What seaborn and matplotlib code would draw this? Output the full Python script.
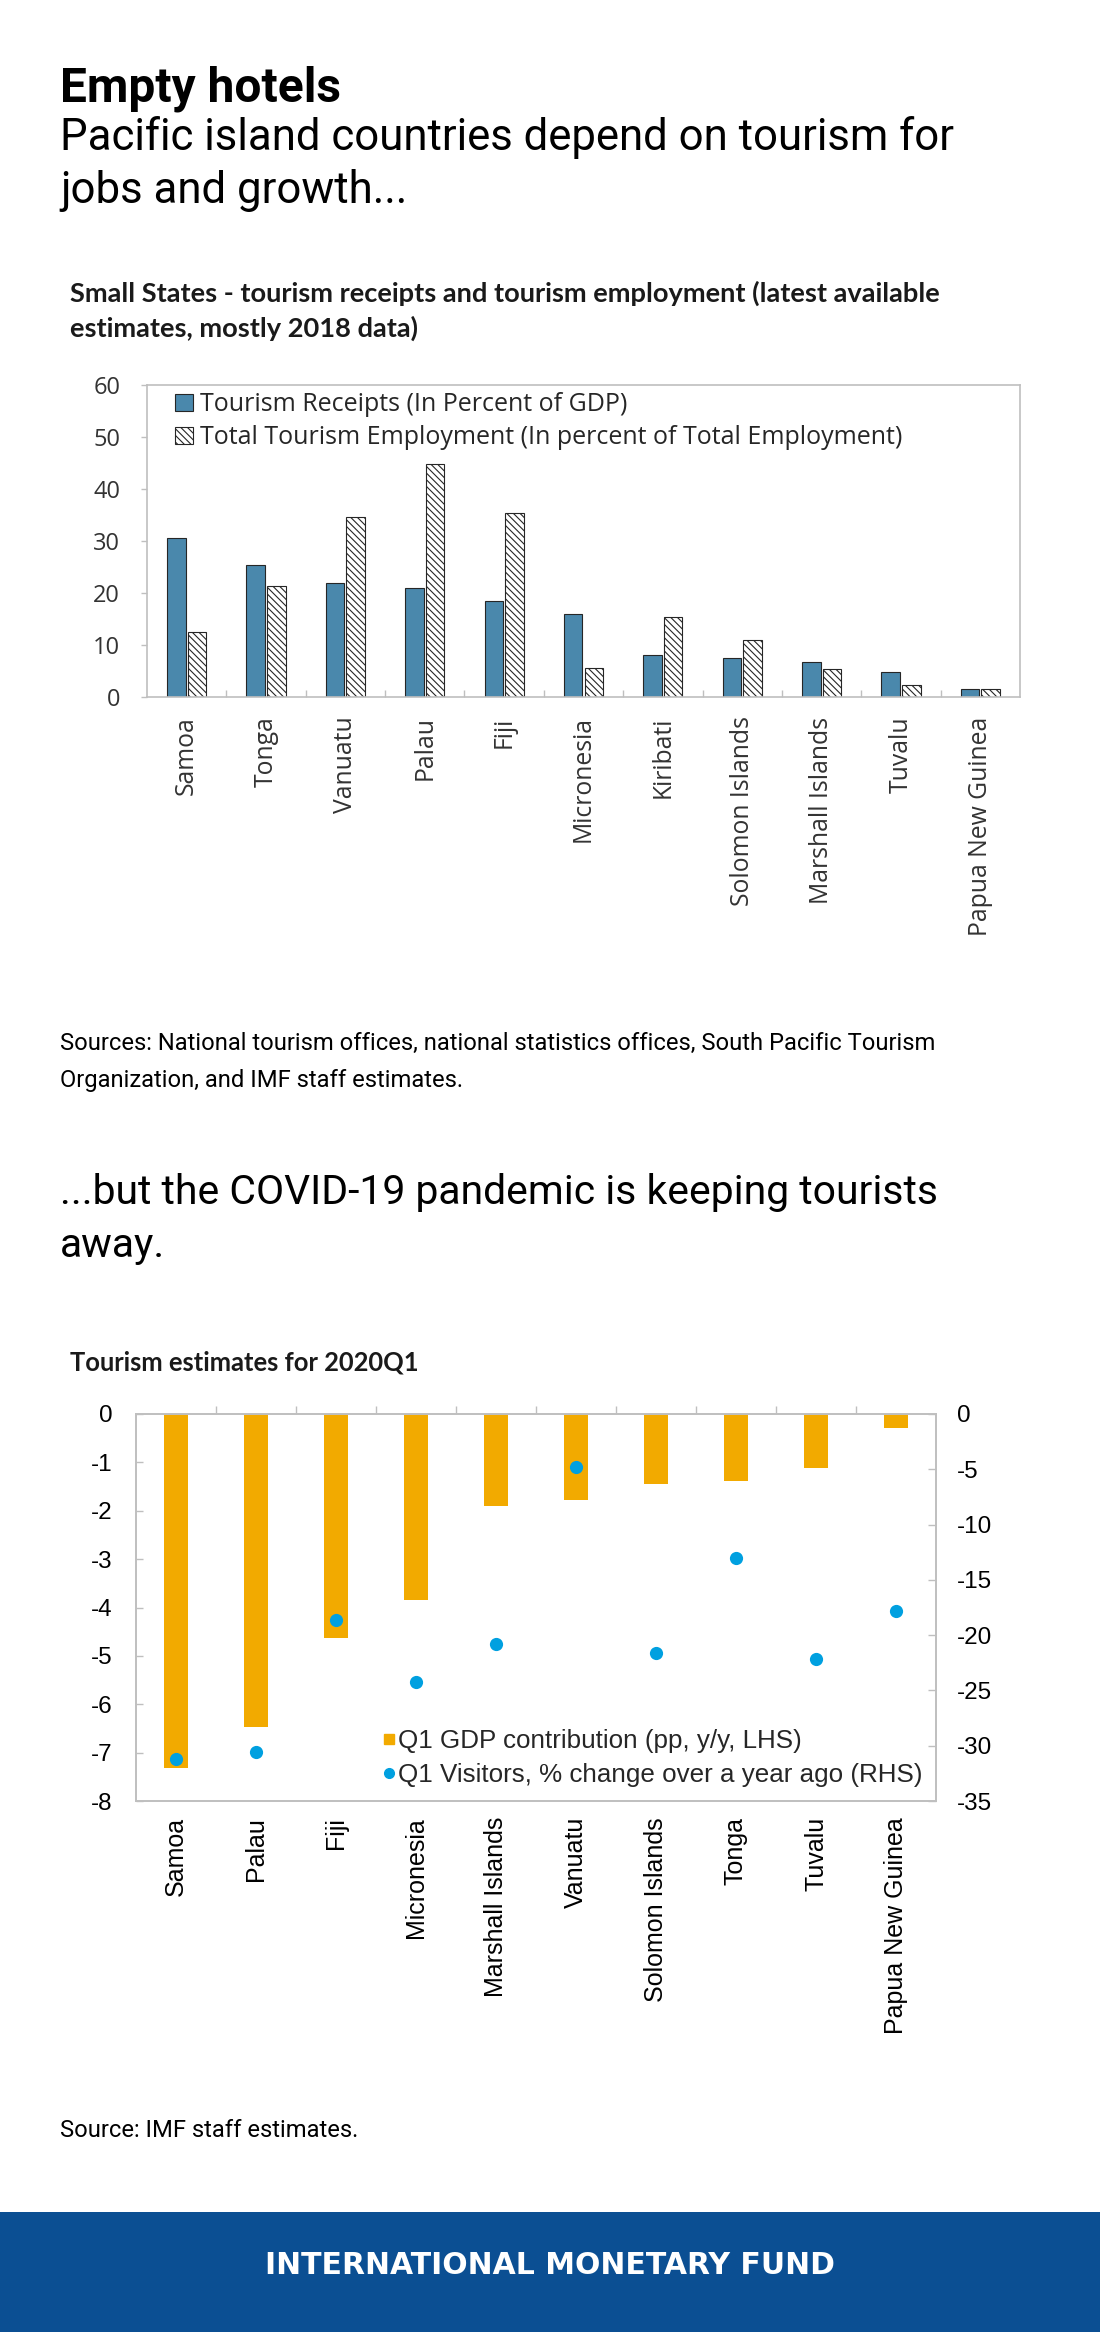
import numpy as np
import pandas as pd
import matplotlib
matplotlib.use('Agg')
import matplotlib.pyplot as plt
import seaborn as sns
from matplotlib.patches import Rectangle
from matplotlib.lines import Line2D

# Chart 1: tourism receipts / employment (latest, mostly 2018)
countries1 = ['Samoa', 'Tonga', 'Vanuatu', 'Palau', 'Fiji', 'Micronesia', 'Kiribati',
              'Solomon Islands', 'Marshall Islands', 'Tuvalu', 'Papua New Guinea']
receipts = [30.5, 25.4, 22.0, 21.0, 18.5, 15.9, 8.0, 7.5, 6.7, 4.9, 1.5]
employment = [12.5, 21.3, 34.7, 44.9, 35.4, 5.6, 15.4, 11.0, 5.4, 2.4, 1.5]
series1 = ['Tourism Receipts (In Percent of GDP)',
           'Total Tourism Employment (In percent of Total Employment)']

# Chart 2: tourism estimates for 2020Q1
countries2 = ['Samoa', 'Palau', 'Fiji', 'Micronesia', 'Marshall Islands', 'Vanuatu',
              'Solomon Islands', 'Tonga', 'Tuvalu', 'Papua New Guinea']
gdp_contrib = [-7.32, -6.46, -4.63, -3.84, -1.90, -1.77, -1.44, -1.39, -1.12, -0.28]
visitors = [-31.2, -30.6, -18.6, -24.2, -20.8, -4.8, -21.6, -13.0, -22.2, -17.8]
series2 = ['Q1 GDP contribution (pp, y/y, LHS)', 'Q1 Visitors, % change over a year ago (RHS)']

BLUE = '#4A88AC'
GOLD = '#F2AA00'
DOT = '#00A0E0'
GRID = '#BFBFBF'
IMF_BLUE = '#0B4F93'

sns.set_theme(style='white')
plt.rcParams['hatch.linewidth'] = 0.8
plt.rcParams['axes.unicode_minus'] = False

W, H = 1100, 2332
fig = plt.figure(figsize=(W / 100, H / 100), dpi=100)


def fx(x):
    return x / W


def fy(y):
    return 1 - y / H


def put(x, y, s, **kw):
    fig.text(fx(x), fy(y), s, ha='left', va='baseline', **kw)


# headline texts
put(60, 102, 'Empty hotels', family='Roboto', weight='bold', size=34.5, color='black')
put(60, 150, 'Pacific island countries depend on tourism for', family='Roboto', size=31.5, color='black')
put(60, 203, 'jobs and growth...', family='Roboto', size=31.5, color='black')

put(70, 302, 'Small States - tourism receipts and tourism employment (latest available',
    family='Lato', weight='bold', size=19.6, color='#1a1a1a')
put(70, 337, 'estimates, mostly 2018 data)', family='Lato', weight='bold', size=19.6, color='#1a1a1a')

# ---- chart 1 ----
df1 = pd.DataFrame({
    'country': countries1 * 2,
    'value': receipts + employment,
    'series': [series1[0]] * len(countries1) + [series1[1]] * len(countries1),
})
ax1 = fig.add_axes([fx(147), fy(697), (1020 - 147) / W, (697 - 385) / H])
sns.barplot(data=df1, x='country', y='value', hue='series', order=countries1,
            hue_order=series1, palette=[BLUE, 'white'], saturation=1,
            width=0.52, gap=0.1, edgecolor='#262626', linewidth=0.8,
            legend=False, ax=ax1)
for bar in ax1.containers[1]:
    bar.set_hatch('\\\\\\\\\\')

ax1.set_ylim(0, 60)
ax1.set_yticks(np.arange(0, 61, 10))
ax1.set_xlim(-0.5, len(countries1) - 0.5)
ax1.set_xlabel('')
ax1.set_ylabel('')
for sp in ax1.spines.values():
    sp.set_visible(True)
    sp.set_color(GRID)
    sp.set_linewidth(1.2)
ax1.tick_params(axis='y', which='major', direction='out', length=4.3, width=1, color=GRID,
                pad=15, labelsize=17, labelcolor='#333333', left=True)
ax1.tick_params(axis='x', which='major', length=0, pad=14, labelsize=17.8,
                labelcolor='#333333', labelrotation=90)
ax1.set_xticks(np.arange(0.5, len(countries1) - 1, 1), minor=True)
ax1.tick_params(axis='x', which='minor', direction='in', length=5, width=1, color=GRID, bottom=True)
for lab in ax1.get_xticklabels() + ax1.get_yticklabels():
    lab.set_family('Open Sans')

leg1 = ax1.legend(ax1.containers, series1, loc='upper left',
                  bbox_to_anchor=((175 - 147) / 873, 1 - (392 - 385) / 312),
                  frameon=False, borderpad=0, borderaxespad=0,
                  handlelength=0.7, handleheight=0.7, handletextpad=0.3,
                  labelspacing=0.32, prop={'family': 'Open Sans', 'size': 18})
for t in leg1.get_texts():
    t.set_color('#262626')

put(60, 1050, 'Sources: National tourism offices, national statistics offices, South Pacific Tourism',
    family='Roboto', size=17.1, color='black')
put(60, 1087, 'Organization, and IMF staff estimates.', family='Roboto', size=17.1, color='black')

put(60, 1204, '...but the COVID-19 pandemic is keeping tourists', family='Roboto', size=29.4, color='black')
put(60, 1257, 'away.', family='Roboto', size=29.4, color='black')

put(70, 1371, 'Tourism estimates for 2020Q1', family='Lato', weight='bold', size=18.4, color='#1a1a1a')

# ---- chart 2 ----
ax2 = fig.add_axes([fx(136), fy(1801), (936 - 136) / W, (1801 - 1414) / H])
sns.barplot(x=countries2, y=gdp_contrib, order=countries2, color=GOLD, saturation=1,
            width=0.31, linewidth=0, ax=ax2)
ax2.set_ylim(-8, 0)
ax2.set_yticks(np.arange(-8, 1, 1))
ax2.set_xlim(-0.5, len(countries2) - 0.5)

ax2r = ax2.twinx()
sns.stripplot(x=countries2, y=visitors, order=countries2, jitter=False, color=DOT,
              size=9.5, linewidth=0, ax=ax2r, zorder=5)
ax2r.set_ylim(-35, 0)
ax2r.set_yticks(np.arange(-35, 1, 5))
ax2r.set_xlim(-0.5, len(countries2) - 0.5)

for a in (ax2, ax2r):
    a.set_xlabel('')
    a.set_ylabel('')
    for sp in a.spines.values():
        sp.set_visible(True)
        sp.set_color(GRID)
        sp.set_linewidth(1.2)

ax2.tick_params(axis='y', which='major', direction='in', length=5, width=1, color=GRID,
                pad=17, labelsize=17.5, labelcolor='black', left=True)
ax2r.tick_params(axis='y', which='major', direction='in', length=5.5, width=1, color=GRID,
                 pad=15, labelsize=17.5, labelcolor='black', right=True)
ax2.tick_params(axis='x', which='major', length=0, pad=11.5, labelsize=18,
                labelcolor='black', labelrotation=90)
ax2.set_xticks(np.arange(0.5, len(countries2) - 1, 1), minor=True)
ax2.tick_params(axis='x', which='minor', direction='out', length=6, width=1, color=GRID,
                top=True, bottom=False)
for lab in ax2.get_xticklabels() + ax2.get_yticklabels() + ax2r.get_yticklabels():
    lab.set_family('Liberation Sans')

handles2 = [Line2D([], [], marker='s', linestyle='none', markersize=6.5, color=GOLD),
            Line2D([], [], marker='o', linestyle='none', markersize=7, color=DOT)]
ax2r.legend(handles2, series2, loc='center left',
            bbox_to_anchor=((384 - 136) / 800, (1801 - 1758) / 387),
            frameon=False, borderpad=0, borderaxespad=0,
            handlelength=0.4, handletextpad=0.15, labelspacing=0.38,
            prop={'family': 'Liberation Sans', 'size': 18.7})

put(60, 2137, 'Source: IMF staff estimates.', family='Roboto', size=17.1, color='black')

# footer band
fig.patches.append(Rectangle((0, 0), 1, (H - 2212) / H, transform=fig.transFigure,
                             facecolor=IMF_BLUE, edgecolor='none', zorder=0))
fig.text(0.5, fy(2266), 'INTERNATIONAL MONETARY FUND', ha='center', va='center',
         family='DejaVu Sans', weight='bold', size=21.5, color='white')

fig.savefig('out.png', dpi=100, facecolor='white')
